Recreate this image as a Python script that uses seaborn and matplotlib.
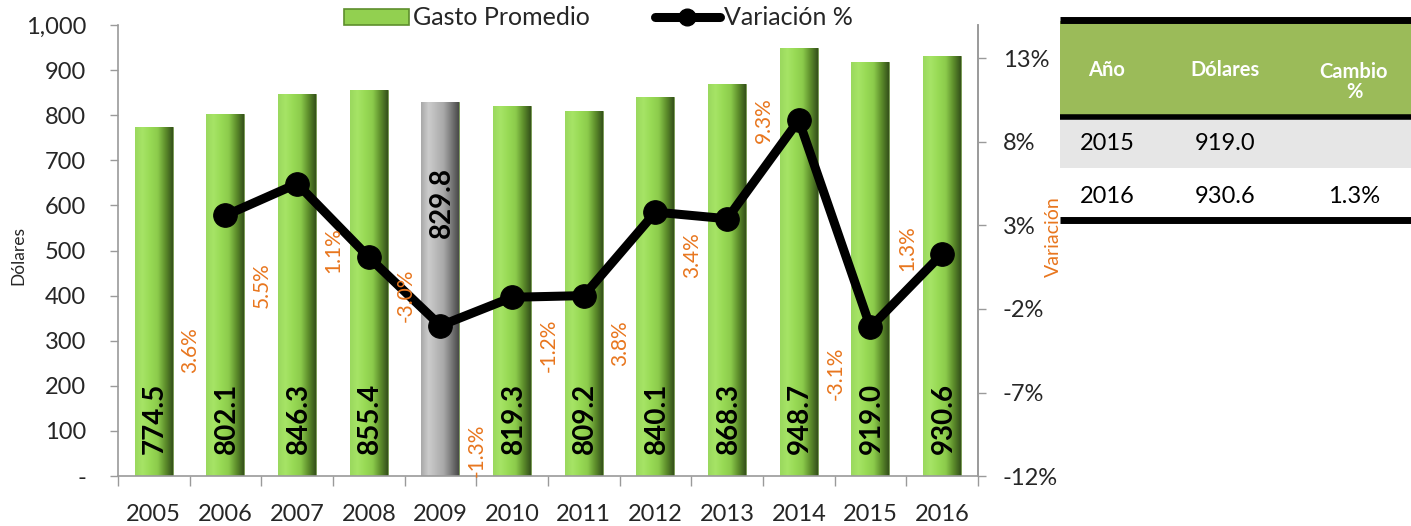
import numpy as np
import pandas as pd
import matplotlib
matplotlib.use("Agg")
import matplotlib.pyplot as plt
import seaborn as sns
from matplotlib.colors import LinearSegmentedColormap
from matplotlib.patches import Rectangle, Patch
from matplotlib.lines import Line2D
from matplotlib.ticker import FuncFormatter, FixedLocator

# ---------------- data ----------------
years = ["2005", "2006", "2007", "2008", "2009", "2010",
         "2011", "2012", "2013", "2014", "2015", "2016"]
gasto = [774.5, 802.1, 846.3, 855.4, 829.8, 819.3,
         809.2, 840.1, 868.3, 948.7, 919.0, 930.6]
var_years = ["2006", "2007", "2008", "2009", "2010", "2011",
             "2012", "2013", "2014", "2015", "2016"]
variacion = [3.6, 5.5, 1.1, -3.0, -1.3, -1.2, 3.8, 3.4, 9.3, -3.1, 1.3]
# where the orange % labels sit (right-axis units)
var_label_y = [-4.45, -0.56, 1.53, -1.16, -10.44, -4.16, -4.04, 1.23, 9.32, -5.83, 1.65]
highlight_year = "2009"

left_ticks = [0, 100, 200, 300, 400, 500, 600, 700, 800, 900, 1000]
right_ticks = [-12, -7, -2, 3, 8, 13]

table_header = ["Año", "Dólares", "Cambio\n%"]
table_years = ["2015", "2016"]
table_dollars = ["919.0", "930.6"]
table_change = ["", "1.3%"]

# ---------------- style ----------------
sns.set_theme(style="white")
plt.rcParams["font.family"] = ["Lato", "DejaVu Sans"]

GREEN = "#92D050"
GRAY = "#B2B2B2"
ORANGE = "#E8761E"
AXIS_GREY = "#9A9A9A"

fig = plt.figure(figsize=(14.11, 5.26), dpi=100)
ax = fig.add_axes([0.0836, 0.095, 0.6095, 0.8575])

df = pd.DataFrame({"year": years, "gasto": gasto})
palette = {y: (GRAY if y == highlight_year else GREEN) for y in years}
sns.barplot(data=df, x="year", y="gasto", hue="year", palette=palette,
            legend=False, width=0.53, ax=ax, saturation=1,
            edgecolor="#6E8F4A", linewidth=0.6, zorder=2)

ax.set_xlim(-0.5, len(years) - 0.5)
ax.set_ylim(0, 1000)

# gradient shading (bevel look) on each bar
green_cmap = LinearSegmentedColormap.from_list(
    "g", ["#9AD85E", "#A6E466", "#98DA55", "#8CCB4C", "#5E8F2C", "#34501A"])
gray_cmap = LinearSegmentedColormap.from_list(
    "k", ["#A8A8A8", "#CCCCCC", "#BABABA", "#A8A8A8", "#7A7A7A", "#484848"])
grad = np.linspace(0, 1, 256).reshape(1, -1)
for patch, yr in zip(ax.patches, years):
    x0, y0 = patch.get_x(), patch.get_y()
    w, h = patch.get_width(), patch.get_height()
    cmap = gray_cmap if yr == highlight_year else green_cmap
    im = ax.imshow(grad, cmap=cmap, aspect="auto",
                   extent=(x0, x0 + w, y0, y0 + h), zorder=2.5,
                   interpolation="bicubic")
    im.set_clip_path(patch)
ax.set_xlim(-0.5, len(years) - 0.5)
ax.set_ylim(0, 1000)

# value labels inside the bars
for i, (yr, v) in enumerate(zip(years, gasto)):
    if yr == highlight_year:
        ax.annotate(f"{v:.1f}", xy=(i, v), xytext=(1, -47),
                    textcoords="offset points", rotation=90,
                    ha="center", va="top", fontsize=20, fontweight="bold",
                    color="black", zorder=5)
    else:
        ax.annotate(f"{v:.1f}", xy=(i, 0), xytext=(1, 16),
                    textcoords="offset points", rotation=90,
                    ha="center", va="bottom", fontsize=20, fontweight="bold",
                    color="black", zorder=5)

# left axis styling
ax.yaxis.set_major_locator(FixedLocator(left_ticks))
ax.yaxis.set_major_formatter(FuncFormatter(lambda v, p: "-" if v == 0 else f"{v:,.0f}"))
ax.tick_params(axis="y", which="major", length=6, width=1, color=AXIS_GREY,
               direction="out", labelsize=17, pad=17, left=True)
ax.set_ylabel("Dólares", fontsize=12.5)
ax.yaxis.set_label_coords(-0.106, 0.49)
ax.set_xlabel("")
ax.set_xticks(range(len(years)))
ax.set_xticklabels(years)
ax.set_xticks(np.arange(-0.5, len(years), 1.0), minor=True)
ax.tick_params(axis="x", which="major", length=0, labelsize=17, pad=20)
ax.tick_params(axis="x", which="minor", length=7, width=1, color=AXIS_GREY,
               direction="out", bottom=True)
for s in ["top"]:
    ax.spines[s].set_visible(False)
for s in ["left", "bottom", "right"]:
    ax.spines[s].set_color(AXIS_GREY)
    ax.spines[s].set_linewidth(1.2)
ax.grid(False)

# line on secondary axis
ax2 = ax.twinx()
xpos = [years.index(y) for y in var_years]
sns.lineplot(x=xpos, y=variacion, ax=ax2, color="black", linewidth=6.5,
             marker="o", markersize=17, markeredgecolor="black",
             markerfacecolor="black", zorder=6, legend=False)
ax2.set_ylim(-12, 15)
ax2.set_xlim(-0.5, len(years) - 0.5)
ax2.yaxis.set_major_locator(FixedLocator(right_ticks))
ax2.yaxis.set_major_formatter(FuncFormatter(lambda v, p: f"{v:.0f}%"))
ax2.tick_params(axis="y", length=6, width=1, color=AXIS_GREY, direction="out",
                labelsize=17, pad=12, right=True)
ax2.set_ylabel("Variación", color=ORANGE, fontsize=14)
ax2.yaxis.set_label_coords(1.078, 0.53)
for s in ["top", "left", "bottom"]:
    ax2.spines[s].set_visible(False)
ax2.spines["right"].set_color(AXIS_GREY)
ax2.spines["right"].set_linewidth(1.2)
ax2.grid(False)

for xp, v, ly in zip(xpos, variacion, var_label_y):
    ax2.text(xp - 0.49, ly, f"{v:.1f}%", rotation=90, ha="center", va="center",
             color=ORANGE, fontsize=15, zorder=7)

# legend
handles = [Patch(facecolor=GREEN, edgecolor="#5E8F2C", linewidth=1.2),
           Line2D([0], [0], color="black", linewidth=6.5, marker="o",
                  markersize=12, markerfacecolor="black")]
fig.legend(handles, ["Gasto Promedio", "Variación %"], loc="center",
           bbox_to_anchor=(0.424, 0.966), ncol=2, frameon=False,
           fontsize=18, handlelength=2.6, handleheight=0.6,
           columnspacing=2.6, handletextpad=0.15)

# ---------------- side table ----------------
W, H = 1411.0, 526.0
def fx(px):
    return px / W
def fy(py):
    return 1 - py / H

tx0, tx1 = 1060, 1411
fig.patches.append(Rectangle((fx(tx0), fy(116)), fx(tx1 - tx0), (116 - 21) / H,
                             transform=fig.transFigure, facecolor="#9BBB59",
                             edgecolor="none", zorder=1))
fig.patches.append(Rectangle((fx(tx0), fy(168)), fx(tx1 - tx0), (168 - 119) / H,
                             transform=fig.transFigure, facecolor="#E6E6E6",
                             edgecolor="none", zorder=1))
for ly, lw in [(20, 5), (117, 4), (220, 5)]:
    fig.add_artist(Line2D([fx(tx0), fx(tx1)], [fy(ly), fy(ly)],
                          transform=fig.transFigure, color="black",
                          linewidth=lw, solid_capstyle="butt"))
col_x = [1107, 1225, 1354]
for cx, txt in zip(col_x, table_header):
    yy = 70 if "\n" not in txt else 82
    fig.text(fx(cx), fy(yy), txt, ha="center", va="center", color="white",
             fontsize=14.5, fontweight="bold", linespacing=1.05)
row_y = [143, 196]
for ry, a, b, c in zip(row_y, table_years, table_dollars, table_change):
    for cx, txt in zip(col_x, [a, b, c]):
        fig.text(fx(cx), fy(ry), txt, ha="center", va="center",
                 color="black", fontsize=17)

fig.savefig("out.png", dpi=100)
